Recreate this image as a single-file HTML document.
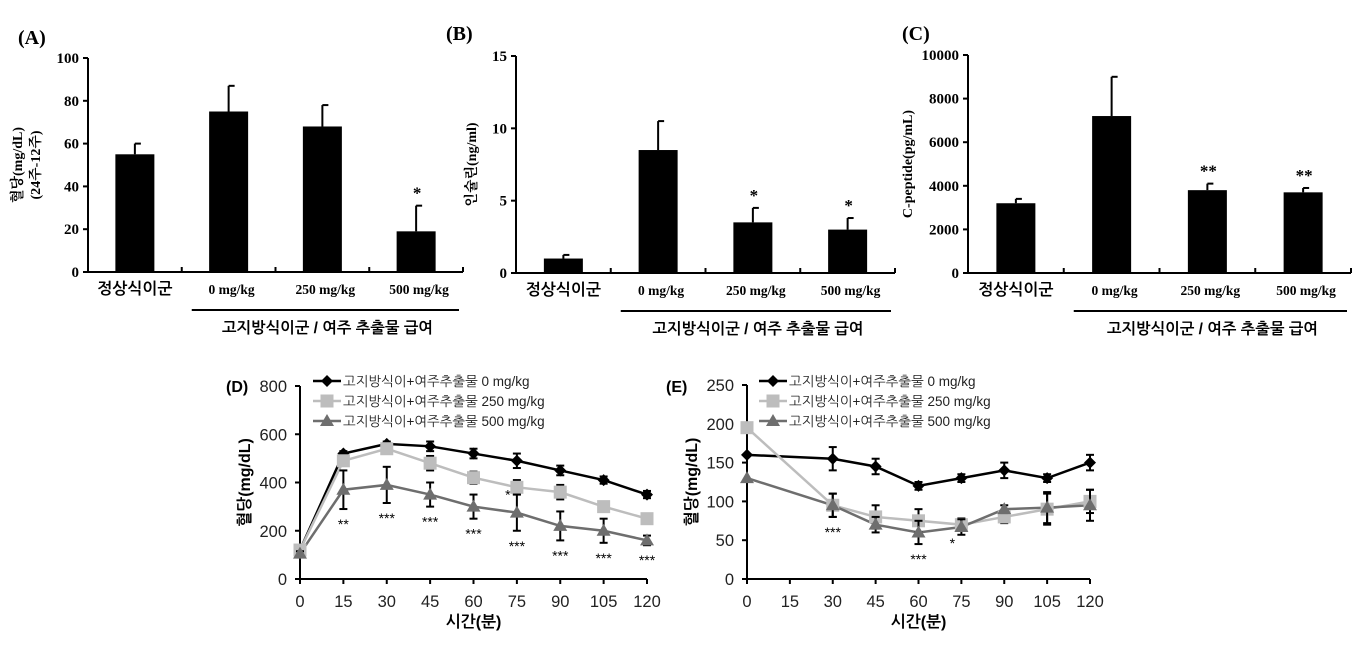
<!DOCTYPE html>
<html><head><meta charset="utf-8">
<style>
html,body{margin:0;padding:0;background:#fff;}
svg{display:block;}
.serif{font-family:"Liberation Serif","Noto Serif CJK SC","Noto Sans CJK KR",serif;font-weight:bold;}
.kr{font-family:"Liberation Sans","NanumGothic","Noto Sans CJK KR",sans-serif;}
</style></head>
<body>
<svg id="chart" width="1366" height="646" viewBox="0 0 1366 646" xmlns="http://www.w3.org/2000/svg">
<g>
<text x="18" y="44" class="serif" font-size="20">(A)</text>
<text x="446" y="40" class="serif" font-size="20">(B)</text>
<text x="902" y="40" class="serif" font-size="20">(C)</text>
<text x="226" y="392" class="kr" font-size="16" font-weight="bold">(D)</text>
</g>
</svg>
<script>
const NS='http://www.w3.org/2000/svg';
const svg=document.getElementById('chart');
function mk(tag,attrs,parent,txt){const e=document.createElementNS(NS,tag);for(const k in attrs)e.setAttribute(k,attrs[k]);if(txt!==undefined)e.textContent=txt;(parent||svg).appendChild(e);return e;}

// ---- Bar chart data ----
const barCategories=['정상식이군','0 mg/kg','250 mg/kg','500 mg/kg'];
const glucoseDiff=[55,75,68,19];
const glucoseDiffErr=[5,12,10,12];
const glucoseStars=['','','','*'];
const glucoseTicks=[0,20,40,60,80,100];
const insulin=[1,8.5,3.5,3];
const insulinErr=[0.25,2,1,0.8];
const insulinStars=['','','*','*'];
const insulinTicks=[0,5,10,15];
const cpeptide=[3200,7200,3800,3700];
const cpeptideErr=[200,1800,300,200];
const cpeptideStars=['','','**','**'];
const cpeptideTicks=[0,2000,4000,6000,8000,10000];

function barPanel(o){
  const g=mk('g',{});
  
  
  const max=o.ticks[o.ticks.length-1];
  const y=v=>o.y0-(v/max)*(o.y0-o.y1);
  const cw=(o.xe-o.x0)/o.vals.length;
  const cx=i=>o.x0+cw*(i+0.5);
  const ax=mk('line',{x1:o.x0,y1:o.y1,x2:o.x0,y2:o.y0,stroke:'#000','stroke-width':2},g);
  
  const bx=mk('line',{x1:o.x0-5,y1:o.y0,x2:o.xe,y2:o.y0,stroke:'#000','stroke-width':2},g);
  
  o.ticks.forEach(t=>{
    mk('line',{x1:o.x0-5,y1:y(t),x2:o.x0,y2:y(t),stroke:'#000','stroke-width':2},g);
    const tl=mk('text',{x:o.x0-9,y:y(t)+5,'text-anchor':'end','font-size':15,class:'serif'},g,t);
    
  });
  for(let i=1;i<=o.vals.length;i++){mk('line',{x1:o.x0+cw*i,y1:o.y0,x2:o.x0+cw*i,y2:o.y0-5,stroke:'#000','stroke-width':2},g);}
  o.vals.forEach((v,i)=>{
    const top=y(v+o.err[i]);
    mk('line',{x1:cx(i),y1:top,x2:cx(i),y2:y(v),stroke:'#000','stroke-width':2},g);
    mk('line',{x1:cx(i),y1:top,x2:cx(i)+6,y2:top,stroke:'#000','stroke-width':2},g);
    const b=mk('rect',{x:cx(i)-19.5,y:y(v),width:39,height:o.y0-y(v),fill:'#000'},g);
    
    if(o.stars[i]){const s=mk('text',{x:cx(i)+1,y:top-7,'text-anchor':'middle','font-size':17,class:'serif'},g,o.stars[i]);
      }
    const l=mk('text',{x:cx(i)+(i==0?0:3),y:o.y0+22,'text-anchor':'middle','font-size':i==0?16:13.5,class:i==0?'kr':'serif','font-weight':'bold'},g,barCategories[i]);
    
  });
  const br=mk('line',{x1:o.x0+cw+10,y1:o.y0+38,x2:o.xe-4,y2:o.y0+38,stroke:'#000','stroke-width':2},g);
  
  const gl=mk('text',{x:(o.x0+cw+10+o.xe)/2,y:o.y0+61,'text-anchor':'middle','font-size':15.5,class:'kr','font-weight':'bold'},g,'고지방식이군 / 여주 추출물 급여');
  
  const yt=mk('text',{transform:`translate(${o.ytx},${(o.y0+o.y1)/2}) rotate(-90)`,'text-anchor':'middle','font-size':14,class:'serif'},g);
  
  o.ytitle.forEach((t,k)=>mk('tspan',{x:0,dy:k?18:0},yt,t));
}
barPanel({name:'panel-a-glucose-bar',x0:88,xe:463,y0:272,y1:58,vals:glucoseDiff,err:glucoseDiffErr,stars:glucoseStars,ticks:glucoseTicks,ytx:22,ytitle:['혈당(mg/dL)','(24주-12주)']});
barPanel({name:'panel-b-insulin-bar',x0:516,xe:895,y0:273,y1:56,vals:insulin,err:insulinErr,stars:insulinStars,ticks:insulinTicks,ytx:476,ytitle:['인슐린(ng/ml)']});
barPanel({name:'panel-c-cpeptide-bar',x0:968,xe:1351,y0:273,y1:55,vals:cpeptide,err:cpeptideErr,stars:cpeptideStars,ticks:cpeptideTicks,ytx:912,ytitle:['C-peptide(pg/mL)']});

// ---- Line chart data ----
const timeTicks=[0,15,30,45,60,75,90,105,120];
const seriesNames=['고지방식이+여주추출물 0 mg/kg','고지방식이+여주추출물 250 mg/kg','고지방식이+여주추출물 500 mg/kg'];
const dTimes=[0,15,30,45,60,75,90,105,120];
const d0=[120,520,560,550,520,490,450,410,350];
const d0Err=[15,10,10,20,20,30,20,15,15];
const d250=[120,490,540,480,420,380,360,300,250];
const d250Err=[10,15,10,30,25,30,30,10,10];
const d500=[105,370,390,350,300,275,220,200,160];
const d500Err=[10,80,75,50,50,75,60,50,20];
const dStars=['','**','***','***','***','***','***','***','***'];
const dYTicks=[0,200,400,600,800];
const eTimes=[0,30,45,60,75,90,105,120];
const e0=[160,155,145,120,130,140,130,150];
const e0Err=[3,15,10,5,5,10,5,10];
const e250=[195,95,80,75,70,80,90,100];
const e250Err=[3,15,15,15,8,8,20,15];
const e500=[130,95,70,60,67,90,92,95];
const e500Err=[3,15,10,15,10,5,20,20];
const eStars=['','***','','***','','','',''];
const eYTicks=[0,50,100,150,200,250];

const colors=['#000000','#bdbdbd','#6e6e6e'];
function marker(g,k,x,y){
  let m;
  if(k==0)m=mk('polygon',{points:`${x},${y-6} ${x+6},${y} ${x},${y+6} ${x-6},${y}`,fill:colors[0]},g);
  else if(k==1)m=mk('rect',{x:x-6.5,y:y-6.5,width:13,height:13,fill:colors[1]},g);
  else m=mk('polygon',{points:`${x},${y-7} ${x+7},${y+5} ${x-7},${y+5}`,fill:colors[2]},g);
  
}
function linePanel(o){
  const g=mk('g',{});
  
  
  const ymax=o.yt[o.yt.length-1];
  const X=t=>o.x0+t/120*(o.x1-o.x0);
  const Y=v=>o.y0-v/ymax*(o.y0-o.y1);
  mk('line',{x1:o.x0,y1:o.y1,x2:o.x0,y2:o.y0,stroke:'#000','stroke-width':2},g);
  mk('line',{x1:o.x0,y1:o.y0,x2:o.x1,y2:o.y0,stroke:'#000','stroke-width':2},g);
  o.yt.forEach(t=>{mk('line',{x1:o.x0-5,y1:Y(t),x2:o.x0,y2:Y(t),stroke:'#000','stroke-width':2},g);
    const l=mk('text',{x:o.x0-13,y:Y(t)+6,'text-anchor':'end','font-size':16.5,class:'kr',fill:'#222'},g,t);
    });
  timeTicks.forEach(t=>{mk('line',{x1:X(t),y1:o.y0,x2:X(t),y2:o.y0+5,stroke:'#000','stroke-width':2},g);
    const l=mk('text',{x:X(t),y:o.y0+28,'text-anchor':'middle','font-size':16.5,class:'kr',fill:'#222'},g,t);
    });
  const xt=mk('text',{x:(o.x0+o.x1)/2,y:o.y0+48,'text-anchor':'middle','font-size':16,'font-weight':'bold',class:'kr'},g,'시간(분)');
  
  const yt=mk('text',{transform:`translate(${o.x0-50},${(o.y0+o.y1)/2}) rotate(-90)`,'text-anchor':'middle','font-size':16,'font-weight':'bold',class:'kr'},g,'혈당(mg/dL)');
  
  o.series.forEach((s,k)=>{
    const pts=o.times.map((t,i)=>X(t)+','+Y(s[i])).join(' ');
    const pl=mk('polyline',{points:pts,fill:'none',stroke:colors[k],'stroke-width':2.5},g);
    
  });
  o.series.forEach((s,k)=>{
    o.times.forEach((t,i)=>{const e=o.errs[k][i];if(e>4){const x=X(t);
      mk('line',{x1:x,y1:Y(s[i]+e),x2:x,y2:Y(s[i]-e),stroke:'#000','stroke-width':2},g);
      mk('line',{x1:x-4,y1:Y(s[i]+e),x2:x+4,y2:Y(s[i]+e),stroke:'#000','stroke-width':2},g);
      mk('line',{x1:x-4,y1:Y(s[i]-e),x2:x+4,y2:Y(s[i]-e),stroke:'#000','stroke-width':2},g);}
      marker(g,k,X(t),Y(s[i]));});
  });
  o.times.forEach((t,i)=>{if(o.stars[i]){const low=Math.min(...o.series.map((s,k)=>s[i]-o.errs[k][i]));
    const st=mk('text',{x:X(t),y:Y(low)+20,'text-anchor':'middle','font-size':14,class:'kr'},g,o.stars[i]);
    }});
  if(o.extra)o.extra.forEach(e=>{const st=mk('text',{x:X(e.t)-9,y:Y(e.v),'text-anchor':'middle','font-size':14,class:'kr'},g,'*');
    });
  const lg=mk('g',{},g);
  
  seriesNames.forEach((n,k)=>{const ly=o.ly+k*20;
    mk('line',{x1:o.lx,y1:ly,x2:o.lx+28,y2:ly,stroke:colors[k],'stroke-width':2.5},lg);
    marker(lg,k,o.lx+14,ly);
    const t=mk('text',{x:o.lx+30,y:ly+5,'font-size':13.5,class:'kr',fill:'#222'},lg,n);
    });
}
linePanel({name:'panel-d-glucose-line',x0:300,x1:647,y0:579,y1:386,yt:dYTicks,times:dTimes,series:[d0,d250,d500],errs:[d0Err,d250Err,d500Err],stars:dStars,extra:[{t:75,v:330}],lx:313,ly:381});
linePanel({name:'panel-e-glucose-line',x0:747,x1:1090,y0:579,y1:385,yt:eYTicks,times:eTimes,series:[e0,e250,e500],errs:[e0Err,e250Err,e500Err],stars:eStars,extra:[{t:75,v:40}],lx:759,ly:381});
mk('text',{x:666,y:392,'font-size':16,'font-weight':'bold',class:'kr'},svg,'(E)');
</script>
</body></html>
